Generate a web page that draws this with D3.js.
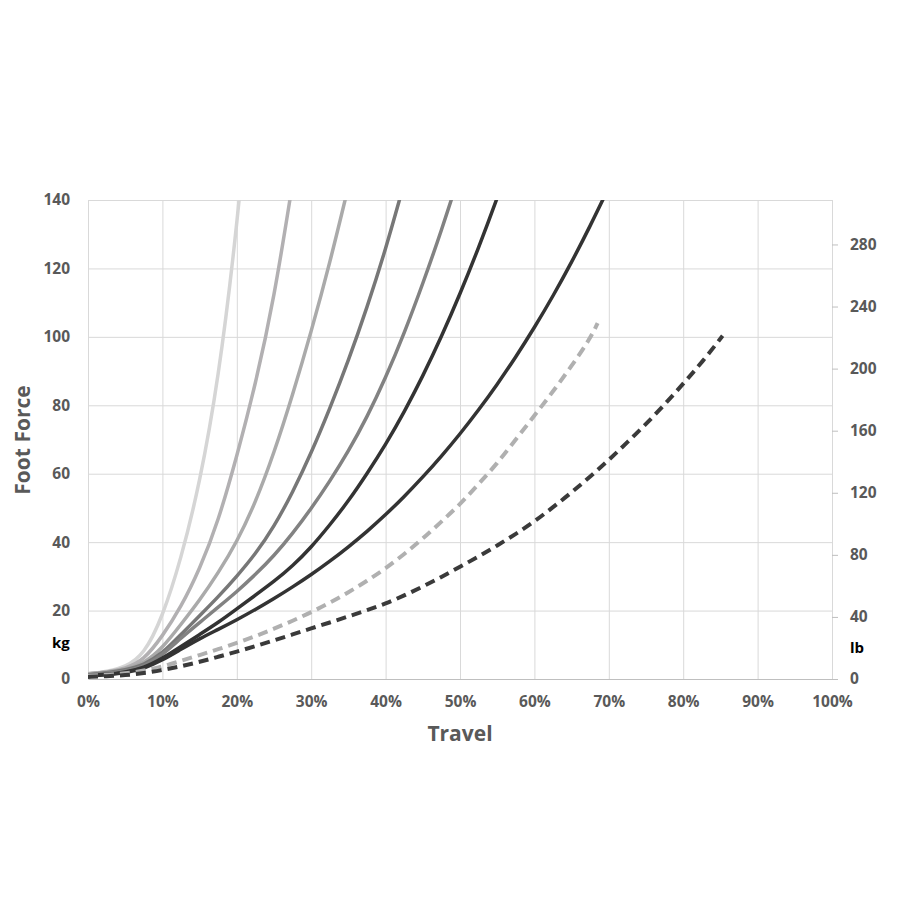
<!DOCTYPE html>
<html>
<head>
<meta charset="utf-8">
<script src="https://cdn.jsdelivr.net/npm/d3@7"></script>
<style>
  body { margin: 0; background: #fff; }
  text { font-family: "Open Sans", "DejaVu Sans", sans-serif; font-weight: bold; }
</style>
</head>
<body>
<svg id="chart" width="900" height="900"></svg>
<script>
// tick values
var xTicks = [0, 10, 20, 30, 40, 50, 60, 70, 80, 90, 100];
var kgTicks = [0, 20, 40, 60, 80, 100, 120, 140];
var lbTicks = [0, 40, 80, 120, 160, 200, 240, 280];

// each curve: [travel %, foot force kg]
var curve1 = [[0,1.5],[2.5,2.2],[5,3.5],[7.5,7],[10,18],[12.5,35],[15,57],[17.5,87],[20,131],[22.5,190]];
var curve2 = [[0,1.5],[2.5,2],[5,3],[7.5,5.5],[10,12.5],[12.5,21],[15,32],[17.5,46],[20,65],[22.5,86],[25,111],[27.5,145]];
var curve3 = [[0,1.5],[2.5,2],[5,2.8],[7.5,4.5],[10,9],[12.5,16],[15,23],[17.5,31],[20,40],[22.5,51.5],[25,66],[27.5,83],[30,101.5],[32.5,121.5],[35,144]];
var curve4 = [[0,1.2],[2.5,1.8],[5,2.6],[7.5,4],[10,7.5],[12.5,13],[15,18.5],[17.5,24],[20,30],[22.5,36.5],[25,44.5],[27.5,54.5],[30,66],[32.5,79],[35,93],[37.5,108.5],[40,125.5],[42.5,145]];
var curve5 = [[0,1.2],[2.5,1.6],[5,2.3],[7.5,3.6],[10,7],[12.5,12],[15,16.5],[17.5,21],[20,25.5],[22.5,30.5],[25,36],[27.5,42.5],[30,49.8],[32.5,57.8],[35,66.5],[37.5,76.5],[40,88],[42.5,101],[45,115.5],[47.5,131],[50,148]];
var curve6 = [[0,1],[2.5,1.3],[5,2],[7.5,3.2],[10,6],[12.5,9.5],[15,13],[17.5,16.5],[20,20.5],[22.5,24.5],[25,28.5],[27.5,33],[30,38.5],[32.5,45],[35,52],[37.5,60],[40,68.5],[42.5,78],[45,88.5],[47.5,100],[50,112.5],[52.5,126],[55,140.5],[57.5,156]];
var curve7 = [[0,1],[2.5,1.2],[5,1.8],[7.5,3],[10,5.5],[12.5,8.7],[15,11.8],[17.5,14.5],[20,17.3],[22.5,20.3],[25,23.5],[27.5,26.9],[30,30.5],[32.5,34.4],[35,38.6],[37.5,43.1],[40,48],[42.5,53.3],[45,59],[47.5,65.1],[50,71.6],[52.5,78.6],[55,86.1],[57.5,94.1],[60,102.7],[62.5,111.9],[65,121.8],[67.5,132.4],[70,143.7]];
var dashLight = [[0,1],[2.5,1.2],[5,1.6],[7.5,2.4],[10,3.6],[12.5,5.3],[15,7],[17.5,8.7],[20,10.5],[22.5,12.5],[25,14.7],[27.5,17],[30,19.5],[32.5,22.3],[35,25.3],[37.5,28.7],[40,32.3],[42.5,36.5],[45,41],[47.5,46],[50,51],[52.5,57],[55,63],[57.5,70],[60,77],[62.5,84],[65,91.5],[67.5,99.5],[68.5,104]];
var dashDark = [[0,0.6],[2.5,0.8],[5,1.1],[7.5,1.7],[10,2.6],[12.5,3.7],[15,5],[17.5,6.5],[20,8],[22.5,9.6],[25,11.3],[27.5,13],[30,14.8],[32.5,16.5],[35,18.3],[37.5,20.1],[40,22],[42.5,24.4],[45,27],[47.5,29.8],[50,32.8],[52.5,35.8],[55,39],[57.5,42.4],[60,46],[62.5,50.2],[65,54.5],[67.5,59.2],[70,64],[72.5,69.2],[75,74.5],[77.5,80.2],[80,86.3],[82.5,92.5],[85.3,100.3]];

var allCurves = [curve1, curve2, curve3, curve4, curve5, curve6, curve7, dashLight, dashDark];
var curveColors = ["#d5d5d5", "#b2b0b2", "#aaaaaa", "#777777", "#828282", "#333333", "#333333", "#b0b0b0", "#3a3a3a"];
var curveDashed = [false, false, false, false, false, false, false, true, true];

var KG_TO_LB = 2.20462;

var svg = d3.select("#chart");
var marginLeft = 88, marginTop = 200, width = 744, height = 479;
var labelColor = "#595959";

var x = d3.scaleLinear().domain([0, 100]).range([0, width]);
var y = d3.scaleLinear().domain([0, 140]).range([height, 0]);
var yLb = d3.scaleLinear().domain([0, 140 * KG_TO_LB]).range([height, 0]);

var g = svg.append("g").attr("transform", "translate(" + marginLeft + "," + marginTop + ")");

svg.append("defs").append("clipPath").attr("id", "plotClip")
  .append("rect").attr("x", 0).attr("y", 0).attr("width", width).attr("height", height + 2);

// grid
g.append("g").selectAll("line").data(kgTicks.filter(function (d) { return d > 0; }))
  .enter().append("line")
  .attr("x1", 0).attr("x2", width)
  .attr("y1", function (d) { return y(d) + 0.5; }).attr("y2", function (d) { return y(d) + 0.5; })
  .attr("stroke", "#d9d9d9").attr("stroke-width", 1);
g.append("g").selectAll("line").data(xTicks)
  .enter().append("line")
  .attr("x1", function (d) { return x(d) + 0.5; }).attr("x2", function (d) { return x(d) + 0.5; })
  .attr("y1", 0).attr("y2", height)
  .attr("stroke", "#d9d9d9").attr("stroke-width", 1);

// left axis (labels only)
var yAxis = d3.axisLeft(y).tickValues(kgTicks).tickSize(0).tickPadding(18);
var yG = g.append("g").call(yAxis);
yG.select(".domain").remove();
yG.selectAll("text").attr("fill", labelColor).style("font-size", "15.5px");

// right axis in lb
var lbAxis = d3.axisRight(yLb).tickValues(lbTicks).tickSize(6).tickPadding(12);
var lbG = g.append("g").attr("transform", "translate(" + width + ",0)").call(lbAxis);
lbG.select(".domain").remove();
lbG.selectAll("line").attr("stroke", "#bfbfbf");
lbG.selectAll("text").attr("fill", labelColor).style("font-size", "15.5px");

// bottom axis
var xAxis = d3.axisBottom(x).tickValues(xTicks).tickSize(0).tickPadding(17)
  .tickFormat(function (d) { return d + "%"; });
var xG = g.append("g").attr("transform", "translate(0," + height + ")").call(xAxis);
xG.select(".domain").attr("stroke", "#bfbfbf");
xG.selectAll("text").attr("fill", labelColor).style("font-size", "15.5px");

// curves
var line = d3.line()
  .x(function (d) { return x(d[0]); })
  .y(function (d) { return y(d[1]); })
  .curve(d3.curveBasis);

g.append("g").attr("clip-path", "url(#plotClip)")
  .selectAll("path").data(allCurves).enter().append("path")
  .attr("d", function (d) { return line(d); })
  .attr("fill", "none")
  .attr("stroke", function (d, i) { return curveColors[i]; })
  .attr("stroke-width", function (d, i) { return curveDashed[i] ? 4 : 3.5; })
  .attr("stroke-dasharray", function (d, i) { return curveDashed[i] ? "10,6" : null; })
  .attr("stroke-linecap", "butt");

// axis titles
svg.append("text")
  .attr("transform", "translate(30,440) rotate(-90)")
  .attr("text-anchor", "middle")
  .attr("fill", labelColor)
  .style("font-size", "21px")
  .text("Foot Force");
svg.append("text")
  .attr("x", 460).attr("y", 741)
  .attr("text-anchor", "middle")
  .attr("fill", labelColor)
  .style("font-size", "21px")
  .text("Travel");

// unit labels
svg.append("text").attr("x", 52).attr("y", 648).attr("fill", "#000").style("font-size", "15px").text("kg");
svg.append("text").attr("x", 850).attr("y", 653).attr("fill", "#000").style("font-size", "15px").text("lb");
</script>
</body>
</html>
